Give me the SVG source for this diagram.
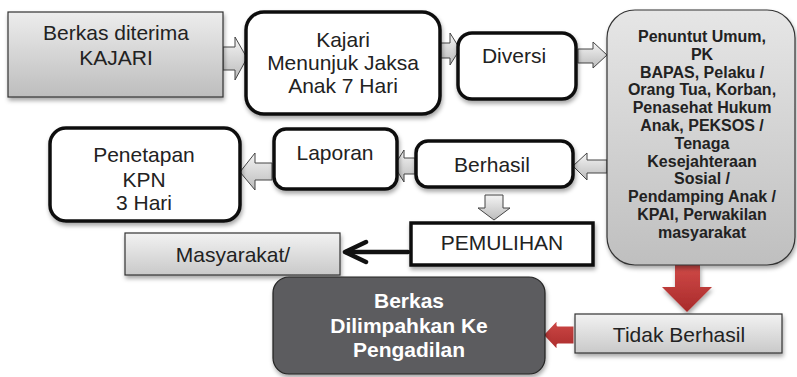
<svg xmlns="http://www.w3.org/2000/svg" width="797" height="377" viewBox="0 0 797 377">
<defs>
<linearGradient id="gGray" x1="0" y1="0" x2="0" y2="1"><stop offset="0" stop-color="#ededed"/><stop offset="1" stop-color="#bdbdbd"/></linearGradient>
<linearGradient id="gLight" x1="0" y1="0" x2="0" y2="1"><stop offset="0" stop-color="#f2f2f2"/><stop offset="1" stop-color="#c9c9c9"/></linearGradient>
<linearGradient id="gBig" x1="0" y1="0" x2="0" y2="1"><stop offset="0" stop-color="#e6e6e6"/><stop offset="1" stop-color="#bfbfbf"/></linearGradient>
<linearGradient id="gArrH" x1="0" y1="0" x2="0" y2="1"><stop offset="0" stop-color="#f4f4f4"/><stop offset="1" stop-color="#bcbcbc"/></linearGradient>
<linearGradient id="gRed" x1="0" y1="0" x2="0" y2="1"><stop offset="0" stop-color="#d04a48"/><stop offset="1" stop-color="#a82a2a"/></linearGradient>
<filter id="sh" x="-10%" y="-10%" width="130%" height="140%"><feDropShadow dx="1" dy="3" stdDeviation="2" flood-color="#000" flood-opacity="0.35"/></filter>
</defs>
<style>
.t{font-family:"Liberation Sans",Arial,sans-serif;font-size:21px;fill:#222;text-anchor:middle}
.b{font-family:"Liberation Sans",Arial,sans-serif;font-weight:bold;font-size:16px;fill:#222;text-anchor:middle}
.w{font-family:"Liberation Sans",Arial,sans-serif;font-weight:bold;font-size:21px;fill:#fff;text-anchor:middle}
.thick{fill:#fff;stroke:#111;stroke-width:3.5}
.thin{stroke:#333;stroke-width:1.2}
.ga{fill:url(#gArrH);stroke:#444;stroke-width:1}
</style>
<g id="connectors">
<polygon class="ga" points="223,47 235,47 235,37 247,58 235,80 235,70 223,70"/>
<polygon class="ga" points="440,43 450,43 450,33 460,49 450,65 450,58 440,58"/>
<polygon class="ga" points="578,49 593,49 593,42 607,55 593,68 593,63 578,63"/>
<polygon class="ga" points="607,160 587,160 587,153 573,166 587,180 587,173 607,173"/>
<polygon class="ga" points="415,158 404,158 404,150 394,166 404,182 404,174 415,174"/>
<polygon class="ga" points="272,163 255,163 255,153 240,172 255,190 255,180 272,180"/>
<polygon class="ga" points="485,195 503,195 503,208 510,208 494,220 478,208 485,208"/>
<polygon fill="url(#gRed)" points="675,265 700,265 700,287 712,287 687,312 662,287 675,287" filter="url(#sh)"/>
<polygon fill="url(#gRed)" stroke="#fff" stroke-width="3" stroke-linejoin="round" points="575,325 558,325 558,318 542,335 558,352 558,345 575,345"/>
<g stroke="#111" stroke-width="4.5" fill="none" stroke-linecap="round" stroke-linejoin="round">
<line x1="408" y1="252" x2="346" y2="252"/>
<polyline points="366,242 345,252 366,262"/>
</g>
</g>
<g id="n1"><rect x="8" y="12" width="215" height="85" fill="url(#gGray)" class="thin" filter="url(#sh)"/>
<text class="t" x="116" y="40">Berkas diterima</text><text class="t" x="116" y="65">KAJARI</text></g>
<g id="n2"><rect x="246" y="12" width="194" height="102" rx="18" class="thick" filter="url(#sh)"/>
<text class="t" x="343" y="47">Kajari</text><text class="t" x="343" y="70">Menunjuk Jaksa</text><text class="t" x="343" y="93">Anak 7 Hari</text></g>
<g id="n3"><rect x="458" y="33" width="118" height="66" rx="14" class="thick" filter="url(#sh)"/>
<text class="t" x="514" y="63">Diversi</text></g>
<g id="n4"><rect x="607" y="10" width="188" height="255" rx="28" fill="url(#gBig)" class="thin" filter="url(#sh)"/>
<text class="b" x="702" y="42">Penuntut Umum,</text>
<text class="b" x="702" y="59.8">PK</text>
<text class="b" x="702" y="77.6">BAPAS, Pelaku /</text>
<text class="b" x="702" y="95.4">Orang Tua, Korban,</text>
<text class="b" x="702" y="113.2">Penasehat Hukum</text>
<text class="b" x="702" y="131">Anak, PEKSOS /</text>
<text class="b" x="702" y="148.8">Tenaga</text>
<text class="b" x="702" y="166.6">Kesejahteraan</text>
<text class="b" x="702" y="184.4">Sosial /</text>
<text class="b" x="702" y="202.2">Pendamping Anak /</text>
<text class="b" x="702" y="220">KPAI, Perwakilan</text>
<text class="b" x="702" y="237.8">masyarakat</text></g>
<g id="n5"><rect x="416" y="141" width="157" height="46" rx="12" class="thick" filter="url(#sh)"/>
<text class="t" x="492" y="172">Berhasil</text></g>
<g id="n6"><rect x="274" y="129" width="123" height="60" rx="12" class="thick" filter="url(#sh)"/>
<text class="t" x="335" y="160">Laporan</text></g>
<g id="n7"><rect x="50" y="128" width="190" height="93" rx="16" class="thick" filter="url(#sh)"/>
<text class="t" x="144" y="162">Penetapan</text><text class="t" x="144" y="187">KPN</text><text class="t" x="144" y="210">3 Hari</text></g>
<g id="n8"><rect x="411" y="223" width="182" height="42" class="thick" filter="url(#sh)"/>
<text class="t" x="502" y="250">PEMULIHAN</text></g>
<g id="n9"><rect x="125" y="233" width="215" height="42" fill="url(#gLight)" class="thin" filter="url(#sh)"/>
<text class="t" x="233" y="262">Masyarakat/</text></g>
<g id="n10"><rect x="273" y="277" width="272" height="97" rx="16" fill="#5c5c5e" stroke="#222" stroke-width="1.2" filter="url(#sh)"/>
<text class="w" x="409" y="308">Berkas</text><text class="w" x="409" y="333">Dilimpahkan Ke</text><text class="w" x="409" y="357">Pengadilan</text></g>
<g id="n11"><rect x="575" y="314" width="207" height="39" fill="url(#gLight)" class="thin" filter="url(#sh)"/>
<text class="t" x="679" y="342">Tidak Berhasil</text></g>
</svg>
